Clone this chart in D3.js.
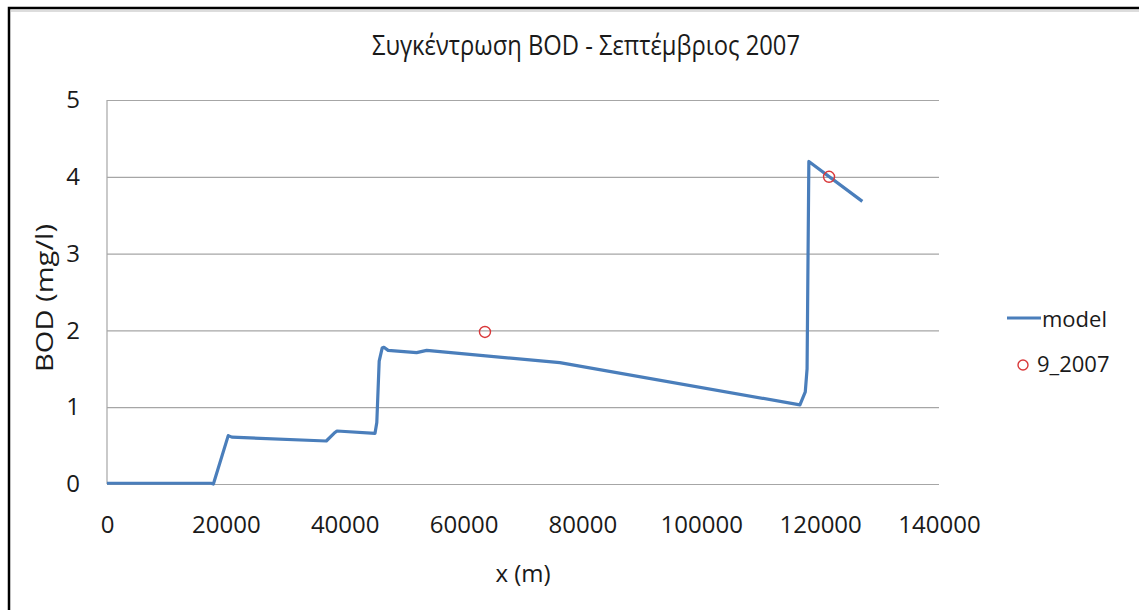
<!DOCTYPE html>
<html>
<head>
<meta charset="utf-8">
<script src="https://cdn.jsdelivr.net/npm/d3@7"></script>
<style>
  body { margin: 0; background: #fff; }
  text { font-family: "Open Sans", "Noto Sans", sans-serif; fill: #1a1a1a; }
</style>
</head>
<body>
<div id="container"></div>
<script>
// model curve (x in m, BOD in mg/l)
var modelX = [0, 17500, 17900, 20400, 21000, 36900, 38200, 38700, 45100, 45400, 45800, 46300, 46600, 47300, 52100, 53800, 76200, 116600, 117500, 117800, 118100, 127100];
var modelY = [0.01, 0.01, 0.0, 0.63, 0.61, 0.56, 0.66, 0.69, 0.66, 0.8, 1.6, 1.77, 1.78, 1.74, 1.71, 1.74, 1.58, 1.03, 1.2, 1.5, 4.2, 3.68];

// measurements 9_2007
var obsX = [63600, 121500];
var obsY = [1.98, 4.0];

var xTicks = [0, 20000, 40000, 60000, 80000, 100000, 120000, 140000];
var yTicks = [0, 1, 2, 3, 4, 5];

var width = 1139, height = 610;
var margin = { top: 100, left: 107 };
var plotW = 939 - margin.left;
var plotH = 484 - margin.top;

var svg = d3.select("#container").append("svg")
    .attr("width", width)
    .attr("height", height);

// outer frame
svg.append("rect")
    .attr("x", 9).attr("y", 8)
    .attr("width", width + 20).attr("height", height + 20)
    .attr("fill", "none")
    .attr("stroke", "#000")
    .attr("stroke-width", 2.5);
svg.append("line")
    .attr("x1", 11).attr("x2", width).attr("y1", 11).attr("y2", 11)
    .attr("stroke", "#bbb");

var xScale = d3.scaleLinear().domain([0, 140000]).range([0, plotW]);
var yScale = d3.scaleLinear().domain([0, 5]).range([plotH, 0]);

var chart = svg.append("g")
    .attr("transform", "translate(" + margin.left + "," + margin.top + ")");

// gridlines
chart.append("g")
    .call(d3.axisLeft(yScale).tickValues(yTicks).tickSize(-plotW).tickFormat(""))
    .call(function (g) {
        g.select(".domain").remove();
        g.selectAll("line").attr("stroke", "#a6a6a6").attr("stroke-width", 1.2);
    });

// left axis line
chart.append("line")
    .attr("x1", 0).attr("x2", 0).attr("y1", 0).attr("y2", plotH)
    .attr("stroke", "#a6a6a6").attr("stroke-width", 1.2);

// y tick labels
chart.append("g")
    .call(d3.axisLeft(yScale).tickValues(yTicks).tickSize(0).tickPadding(27).tickFormat(d3.format("d")))
    .call(function (g) {
        g.select(".domain").remove();
        g.selectAll("text").attr("font-size", 24).attr("font-family", "Open Sans, sans-serif").attr("fill", "#1a1a1a");
    });

// x tick labels
chart.append("g")
    .attr("transform", "translate(0," + plotH + ")")
    .call(d3.axisBottom(xScale).tickValues(xTicks).tickSize(0).tickPadding(32).tickFormat(d3.format("d")))
    .call(function (g) {
        g.select(".domain").remove();
        g.selectAll("text").attr("font-size", 24).attr("font-family", "Open Sans, sans-serif").attr("fill", "#1a1a1a");
    });

// model line
var modelData = modelX.map(function (x, i) { return { x: x, y: modelY[i] }; });
var line = d3.line()
    .x(function (d) { return xScale(d.x); })
    .y(function (d) { return yScale(d.y); });

chart.append("path")
    .datum(modelData)
    .attr("d", line)
    .attr("fill", "none")
    .attr("stroke", "#4a7ebb")
    .attr("stroke-width", 3.2)
    .attr("stroke-linejoin", "round");

// observations
var obsData = obsX.map(function (x, i) { return { x: x, y: obsY[i] }; });
chart.selectAll("circle.obs")
    .data(obsData)
    .enter()
    .append("circle")
    .attr("class", "obs")
    .attr("cx", function (d) { return xScale(d.x); })
    .attr("cy", function (d) { return yScale(d.y); })
    .attr("r", 5.5)
    .attr("fill", "none")
    .attr("stroke", "#d9383a")
    .attr("stroke-width", 1.4);

// title
svg.append("text")
    .attr("x", 586)
    .attr("y", 55)
    .attr("text-anchor", "middle")
    .attr("font-size", 28)
    .attr("textLength", 428)
    .attr("lengthAdjust", "spacingAndGlyphs")
    .text("Συγκέντρωση BOD - Σεπτέμβριος 2007");

// axis titles
svg.append("text")
    .attr("x", 523)
    .attr("y", 582)
    .attr("text-anchor", "middle")
    .attr("font-size", 24)
    .text("x (m)");

svg.append("text")
    .attr("transform", "translate(53,298) rotate(-90)")
    .attr("text-anchor", "middle")
    .attr("font-size", 24)
    .attr("textLength", 148)
    .attr("lengthAdjust", "spacingAndGlyphs")
    .text("BOD (mg/l)");

// legend
svg.append("line")
    .attr("x1", 1007).attr("x2", 1041).attr("y1", 318).attr("y2", 318)
    .attr("stroke", "#4a7ebb").attr("stroke-width", 3.2);
svg.append("text")
    .attr("x", 1042).attr("y", 327)
    .attr("font-size", 22)
    .text("model");
svg.append("circle")
    .attr("cx", 1023).attr("cy", 365).attr("r", 5)
    .attr("fill", "none").attr("stroke", "#d9383a").attr("stroke-width", 1.4);
svg.append("text")
    .attr("x", 1037).attr("y", 372)
    .attr("font-size", 22)
    .text("9_2007");
</script>
</body>
</html>
